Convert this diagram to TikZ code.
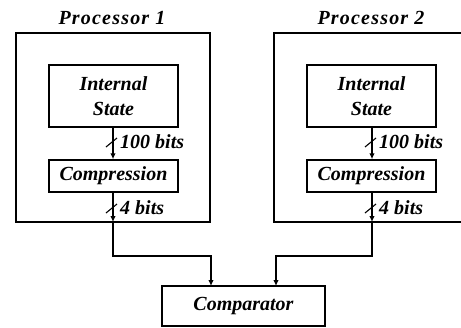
\documentclass[tikz,border=0pt]{standalone}
\usepackage{fontspec}
\setmainfont{Liberation Serif}
\usetikzlibrary{arrows.meta}
\begin{document}
\begin{tikzpicture}[x=1pt,y=-1pt,
  lbl/.style={font=\fontsize{20}{24}\selectfont\bfseries\itshape, inner sep=0pt},
  plbl/.style={font=\fontsize{20}{24}\selectfont\bfseries\itshape\addfontfeatures{LetterSpace=6}, inner sep=0pt},
  box/.style={draw, line width=1.4pt, inner sep=0pt, lbl, align=center},
  proc/.style={draw, line width=1.4pt, inner sep=0pt},
  conn/.style={line width=1.2pt, -{Latex[length=6pt,width=5.5pt]}},
  slash/.style={line width=1.1pt}]
\useasboundingbox (0,0) rectangle (461,327);
% processors
\node[proc, minimum width=194pt, minimum height=189pt] (p1) at (113,127.5) {};
\node[proc, minimum width=194pt, minimum height=189pt] (p2) at (371,127.5) {};
\node[plbl] (p1l) at (112,18) {Processor 1};
\node[plbl] (p2l) at (371,18) {Processor 2};
% inner boxes
\node[box, minimum width=129pt, minimum height=62pt, font=\fontsize{20}{25}\selectfont\bfseries\itshape] (is1) at (113.5,96) {Internal\\State};
\node[box, minimum width=129pt, minimum height=32pt] (c1) at (113.5,176) {Compression};
\node[box, minimum width=129pt, minimum height=62pt, font=\fontsize{20}{25}\selectfont\bfseries\itshape] (is2) at (371.5,96) {Internal\\State};
\node[box, minimum width=129pt, minimum height=32pt] (c2) at (371.5,176) {Compression};
\node[box, minimum width=163pt, minimum height=40pt] (cmp) at (243.5,306) {Comparator};
% coordinates
\coordinate (o1) at (113,222);
\coordinate (o2) at (372,222);
\coordinate (b1) at (113,256);
\coordinate (b2) at (372,256);
\coordinate (i1) at (211,286);
\coordinate (i2) at (276,286);
% connectors
\draw[conn] (is1.south -| o1) -- (c1.north -| o1);
\draw[conn] (c1.south -| o1) -- (o1);
\draw[conn] (is2.south -| o2) -- (c2.north -| o2);
\draw[conn] (c2.south -| o2) -- (o2);
\draw[conn] (o1) -- (b1) -| (i1);
\draw[conn] (o2) -- (b2) -| (i2);
% bus slashes and widths
\draw[slash] (106,147) -- (117,138);
\draw[slash] (106,213) -- (117,204);
\draw[slash] (365,147) -- (376,138);
\draw[slash] (365,213) -- (376,204);
\node[lbl, anchor=west] (w1) at (120,142) {100 bits};
\node[lbl, anchor=west] (w2) at (120,208) {4 bits};
\node[lbl, anchor=west] (w3) at (379,142) {100 bits};
\node[lbl, anchor=west] (w4) at (379,208) {4 bits};
\end{tikzpicture}
\end{document}
